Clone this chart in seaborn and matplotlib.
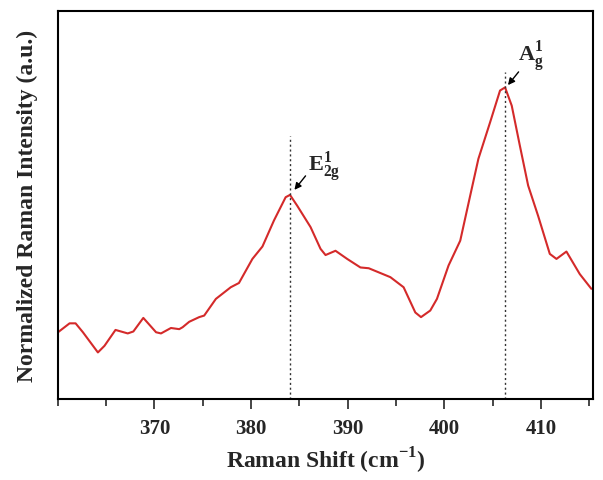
import numpy as np
import pandas as pd
import seaborn as sns
import matplotlib
matplotlib.use("Agg")
import matplotlib.pyplot as plt
from matplotlib.ticker import MultipleLocator

# Data
shift = [360.03, 361.23, 361.85, 362.61, 364.16, 364.84, 365.98, 367.25, 367.83, 368.86,
         370.18, 370.69, 371.72, 372.58, 372.93, 373.61, 374.64, 375.16, 376.37, 377.91,
         378.76, 380.15, 381.19, 382.38, 383.59, 384.04, 384.79, 386.17, 387.20, 387.72,
         388.75, 389.96, 391.33, 392.19, 394.43, 395.80, 397.01, 397.60, 398.56, 399.25,
         400.45, 401.66, 402.69, 403.54, 404.75, 405.78, 406.30, 406.99, 407.83, 408.69,
         409.72, 410.93, 411.62, 412.65, 414.03, 415.23]
intensity = [0.172, 0.195, 0.195, 0.172, 0.120, 0.137, 0.178, 0.169, 0.174, 0.209,
             0.172, 0.169, 0.183, 0.180, 0.185, 0.199, 0.211, 0.215, 0.258, 0.288,
             0.299, 0.361, 0.393, 0.460, 0.520, 0.526, 0.498, 0.443, 0.387, 0.371,
             0.382, 0.361, 0.339, 0.337, 0.314, 0.288, 0.223, 0.211, 0.228, 0.258,
             0.344, 0.408, 0.524, 0.619, 0.713, 0.795, 0.803, 0.756, 0.653, 0.550,
             0.472, 0.374, 0.361, 0.380, 0.322, 0.284]
peak_pos = [384.0, 406.3]
peak_line_top = [0.678, 0.843]
peak_labels = [r"$\mathbf{E}_{\mathbf{2g}}^{\mathbf{1}}$", r"$\mathbf{A}_{\mathbf{g}}^{\mathbf{1}}$"]
xticks = [370, 380, 390, 400, 410]

sns.set_style("white")
plt.rcParams['font.family'] = ['Liberation Serif', 'DejaVu Serif']
plt.rcParams['mathtext.fontset'] = 'custom'
plt.rcParams['mathtext.rm'] = 'Liberation Serif'
plt.rcParams['mathtext.bf'] = 'Liberation Serif:bold'

fig = plt.figure(figsize=(6.03, 4.81), dpi=100)
ax = fig.add_axes([0.0957, 0.1684, 0.8877, 0.8067])

df = pd.DataFrame({"shift": shift, "intensity": intensity})
sns.lineplot(data=df, x="shift", y="intensity", ax=ax, color="#d42a2a", linewidth=1.5, sort=False)

for p, t in zip(peak_pos, peak_line_top):
    ax.plot([p, p], [0, t], linestyle=(0, (1.5, 2)), color="#333333", linewidth=1.0)

ax.set_xlim(360, 415.4)
ax.set_ylim(0, 1)
ax.set_xticks(xticks)
ax.xaxis.set_minor_locator(MultipleLocator(5))
ax.set_yticks([])
ax.tick_params(axis='x', which='major', direction='out', length=7, width=1.2,
               bottom=True, labelsize=15, pad=6.5)
ax.tick_params(axis='x', which='minor', direction='out', length=5, width=1.2, bottom=True)
for lab in ax.get_xticklabels():
    lab.set_fontweight('bold')
for s in ax.spines.values():
    s.set_color('black')
    s.set_linewidth(1.5)

ax.set_xlabel(r"Raman Shift (cm$^{\mathbf{-1}}$)", fontsize=17, fontweight='bold', labelpad=5)
ax.set_ylabel("Normalized Raman Intensity (a.u.)", fontsize=17, fontweight='bold', labelpad=14)

arrow = dict(arrowstyle='-|>', color='black', lw=1.0, mutation_scale=10, shrinkA=0, shrinkB=0)
# E2g
ax.annotate("", xy=(384.5, 0.539), xytext=(385.65, 0.575), arrowprops=arrow)
ax.text(385.95, 0.554, peak_labels[0], fontsize=16, ha='left', va='bottom')
# Ag
ax.annotate("", xy=(406.6, 0.809), xytext=(407.7, 0.843), arrowprops=arrow)
ax.text(407.6, 0.838, peak_labels[1], fontsize=16, ha='left', va='bottom')

fig.savefig("out.png", dpi=100)
